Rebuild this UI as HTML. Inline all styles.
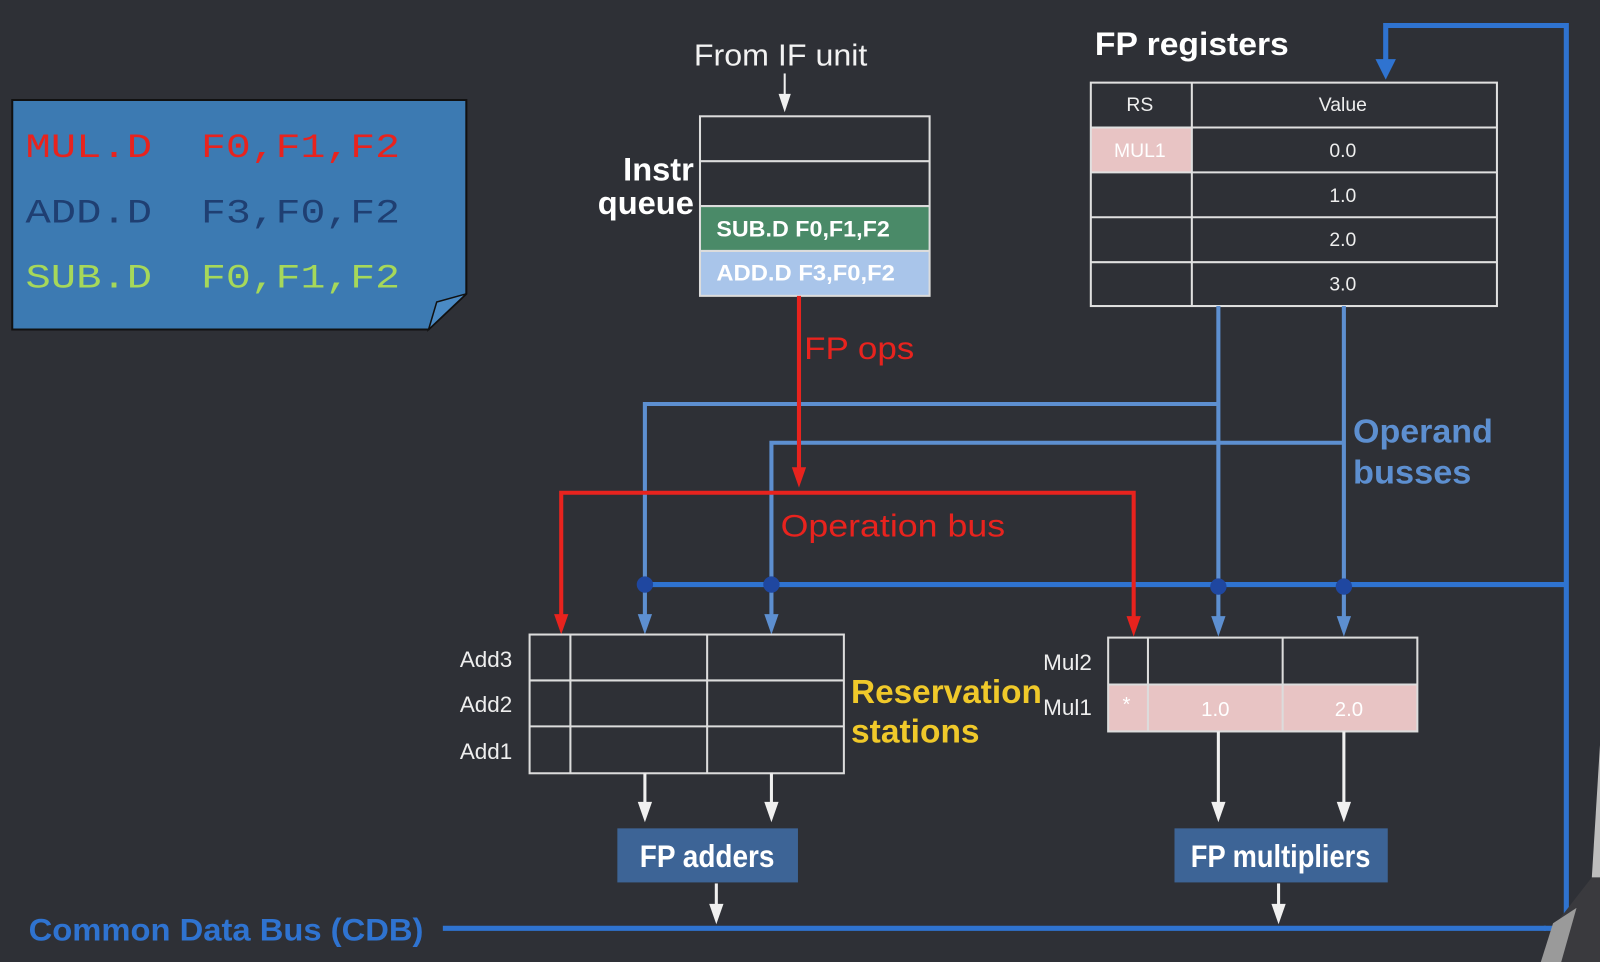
<!DOCTYPE html>
<html><head><meta charset="utf-8"><style>
html,body{margin:0;padding:0;background:#2e3036;}
svg{display:block}
text{font-family:"Liberation Sans Narrow","Liberation Sans",sans-serif;}
.m{font-family:"Liberation Mono",monospace;font-size:34px;}
</style></head><body>
<svg width="1600" height="962" viewBox="0 0 1568 943" preserveAspectRatio="none" xmlns="http://www.w3.org/2000/svg">
<rect width="1568" height="943" fill="#2e3036"/>
<!-- sticky note -->
<path d="M12,98 H457 V288 L420,323 H12 Z" fill="#3c7ab2" stroke="#111" stroke-width="2"/>
<path d="M420,323 L428,296 L457,288 Z" fill="#4a8ac4" stroke="#111" stroke-width="1.5"/>
<text class="m" x="25" y="154" fill="#e8231e" textLength="124" lengthAdjust="spacingAndGlyphs">MUL.D</text>
<text class="m" x="197" y="154" fill="#e8231e" textLength="195" lengthAdjust="spacingAndGlyphs">F0,F1,F2</text>
<text class="m" x="25" y="218" fill="#1f3f72" textLength="124" lengthAdjust="spacingAndGlyphs">ADD.D</text>
<text class="m" x="197" y="218" fill="#1f3f72" textLength="195" lengthAdjust="spacingAndGlyphs">F3,F0,F2</text>
<text class="m" x="25" y="282" fill="#a6d85a" textLength="124" lengthAdjust="spacingAndGlyphs">SUB.D</text>
<text class="m" x="197" y="282" fill="#a6d85a" textLength="195" lengthAdjust="spacingAndGlyphs">F0,F1,F2</text>

<!-- From IF unit -->
<text x="680" y="64" fill="#f2f2f2" font-size="30" textLength="170" lengthAdjust="spacingAndGlyphs">From IF unit</text>
<line x1="769" y1="72" x2="769" y2="94" stroke="#f0f0f0" stroke-width="2"/>
<path d="M763,92 L775,92 L769,110 Z" fill="#f0f0f0"/>
<!-- Instr queue -->
<text x="680" y="177" fill="#fff" font-size="32" font-weight="bold" text-anchor="end">Instr</text>
<text x="680" y="210" fill="#fff" font-size="32" font-weight="bold" text-anchor="end">queue</text>
<rect x="686" y="202" width="225" height="44" fill="#4a8a68"/>
<rect x="686" y="246" width="225" height="44" fill="#a9c5ea"/>
<g stroke="#dcdcdc" stroke-width="2" fill="none">
<rect x="686" y="114" width="225" height="176"/>
<line x1="686" y1="158" x2="911" y2="158"/><line x1="686" y1="202" x2="911" y2="202"/><line x1="686" y1="246" x2="911" y2="246"/>
</g>
<text x="702" y="232" fill="#fff" font-size="22" font-weight="bold" textLength="170" lengthAdjust="spacingAndGlyphs">SUB.D F0,F1,F2</text>
<text x="702" y="275" fill="#fff" font-size="22" font-weight="bold" textLength="175" lengthAdjust="spacingAndGlyphs">ADD.D F3,F0,F2</text>

<!-- FP registers -->
<text x="1073" y="54" fill="#fff" font-size="32" font-weight="bold" textLength="190" lengthAdjust="spacingAndGlyphs">FP registers</text>
<rect x="1069" y="125" width="99" height="44" fill="#e8c4c4"/>
<g stroke="#e0e0e0" stroke-width="2" fill="none">
<rect x="1069" y="81" width="398" height="219"/>
<line x1="1168" y1="81" x2="1168" y2="300"/>
<line x1="1069" y1="125" x2="1467" y2="125"/><line x1="1069" y1="169" x2="1467" y2="169"/><line x1="1069" y1="213" x2="1467" y2="213"/><line x1="1069" y1="257" x2="1467" y2="257"/>
</g>
<g fill="#eee" font-size="19" text-anchor="middle" style="font-family:'DejaVu Sans',sans-serif">
<text x="1117" y="109">RS</text><text x="1316" y="109">Value</text>
<text x="1117" y="154" fill="#fff">MUL1</text>
<text x="1316" y="154">0.0</text><text x="1316" y="198">1.0</text><text x="1316" y="241">2.0</text><text x="1316" y="285">3.0</text>
</g>

<!-- CDB loop -->
<g stroke="#2f73d0" stroke-width="5" fill="none">
<polyline points="1513,910 1535,910 1535,25 1358,25 1358,62"/>
<line x1="632" y1="573" x2="1535" y2="573"/>
<line x1="434" y1="910" x2="1515" y2="910"/>
</g>
<path d="M1348,58 L1368,58 L1358,78 Z" fill="#2f73d0"/>

<!-- operand busses -->
<g stroke="#5d8fd0" stroke-width="4" fill="none">
<polyline points="1194,300 1194,605"/>
<polyline points="1317,300 1317,605"/>
<polyline points="1194,396 632,396 632,605"/>
<polyline points="1317,434 756,434 756,605"/>
</g>
<g fill="#5d8fd0">
<path d="M625,602 L639,602 L632,622 Z"/><path d="M749,602 L763,602 L756,622 Z"/>
<path d="M1187,604 L1201,604 L1194,624 Z"/><path d="M1310,604 L1324,604 L1317,624 Z"/>
</g>
<g fill="#1f47a0"><circle cx="632" cy="573" r="8"/><circle cx="756" cy="573" r="8"/><circle cx="1194" cy="575" r="8"/><circle cx="1317" cy="575" r="8"/></g>

<!-- red op bus -->
<g stroke="#e8231e" stroke-width="4" fill="none">
<line x1="783" y1="290" x2="783" y2="462"/>
<polyline points="550,605 550,483 1111,483 1111,605"/>
</g>
<g fill="#e8231e">
<path d="M776,458 L790,458 L783,478 Z"/><path d="M543,602 L557,602 L550,622 Z"/><path d="M1104,604 L1118,604 L1111,624 Z"/>
</g>
<text x="788" y="352" fill="#e8231e" font-size="31" textLength="108" lengthAdjust="spacingAndGlyphs">FP ops</text>
<text x="765" y="526" fill="#e8231e" font-size="31" textLength="220" lengthAdjust="spacingAndGlyphs">Operation bus</text>
<text x="1326" y="434" fill="#5d8fd0" font-size="33" font-weight="bold" textLength="137" lengthAdjust="spacingAndGlyphs">Operand</text>
<text x="1326" y="474" fill="#5d8fd0" font-size="33" font-weight="bold" textLength="116" lengthAdjust="spacingAndGlyphs">busses</text>

<!-- add RS -->
<g stroke="#dcdcdc" stroke-width="2" fill="none">
<rect x="519" y="622" width="308" height="136"/>
<line x1="559" y1="622" x2="559" y2="758"/><line x1="693" y1="622" x2="693" y2="758"/>
<line x1="519" y1="667" x2="827" y2="667"/><line x1="519" y1="712" x2="827" y2="712"/>
</g>
<g fill="#eee" font-size="22" text-anchor="end"><text x="502" y="654">Add3</text><text x="502" y="698">Add2</text><text x="502" y="744">Add1</text></g>
<text x="834" y="689" fill="#f0c92a" font-size="33" font-weight="bold" textLength="187" lengthAdjust="spacingAndGlyphs">Reservation</text>
<text x="834" y="728" fill="#f0c92a" font-size="33" font-weight="bold" textLength="126" lengthAdjust="spacingAndGlyphs">stations</text>

<!-- mul RS -->
<rect x="1086" y="671" width="303" height="46" fill="#e8c4c4"/>
<g stroke="#dcdcdc" stroke-width="2" fill="none">
<rect x="1086" y="625" width="303" height="92"/>
<line x1="1125" y1="625" x2="1125" y2="717"/><line x1="1257" y1="625" x2="1257" y2="717"/>
<line x1="1086" y1="671" x2="1389" y2="671"/>
</g>
<g fill="#eee" font-size="22" text-anchor="end"><text x="1070" y="657">Mul2</text><text x="1070" y="701">Mul1</text></g>
<g fill="#fff" font-size="20" text-anchor="middle"><text x="1104" y="697">*</text><text x="1191" y="702">1.0</text><text x="1322" y="702">2.0</text></g>

<!-- white arrows -->
<g stroke="#f0f0f0" stroke-width="3">
<line x1="632" y1="758" x2="632" y2="790"/>
<line x1="756" y1="758" x2="756" y2="790"/>
<line x1="1194" y1="717" x2="1194" y2="790"/>
<line x1="1317" y1="717" x2="1317" y2="790"/>
<line x1="702" y1="866" x2="702" y2="890"/>
<line x1="1253" y1="866" x2="1253" y2="890"/>
</g>
<g fill="#f0f0f0">
<path d="M625,786 L639,786 L632,806 Z"/><path d="M749,786 L763,786 L756,806 Z"/>
<path d="M1187,786 L1201,786 L1194,806 Z"/><path d="M1310,786 L1324,786 L1317,806 Z"/>
<path d="M695,886 L709,886 L702,906 Z"/><path d="M1246,886 L1260,886 L1253,906 Z"/>
</g>
<rect x="605" y="812" width="177" height="53" fill="#3d6496"/>
<rect x="1151" y="812" width="209" height="53" fill="#3d6496"/>
<text x="693" y="850" fill="#fff" font-size="31" font-weight="bold" text-anchor="middle" textLength="132" lengthAdjust="spacingAndGlyphs">FP adders</text>
<text x="1255" y="850" fill="#fff" font-size="31" font-weight="bold" text-anchor="middle" textLength="176" lengthAdjust="spacingAndGlyphs">FP multipliers</text>

<text x="28" y="922" fill="#2f73d0" font-size="31" font-weight="bold" textLength="387" lengthAdjust="spacingAndGlyphs">Common Data Bus (CDB)</text>
<!-- person edge -->
<path d="M1568,730 L1568,943 L1512,943 L1525,905 L1560,860 Z" fill="#3a3a3e"/>
<path d="M1568,730 L1568,860 L1560,860 Z" fill="#bdbdbd"/>
<path d="M1510,943 L1522,905 L1545,890 L1530,943 Z" fill="#9a9a9a"/>
</svg>
</body></html>
